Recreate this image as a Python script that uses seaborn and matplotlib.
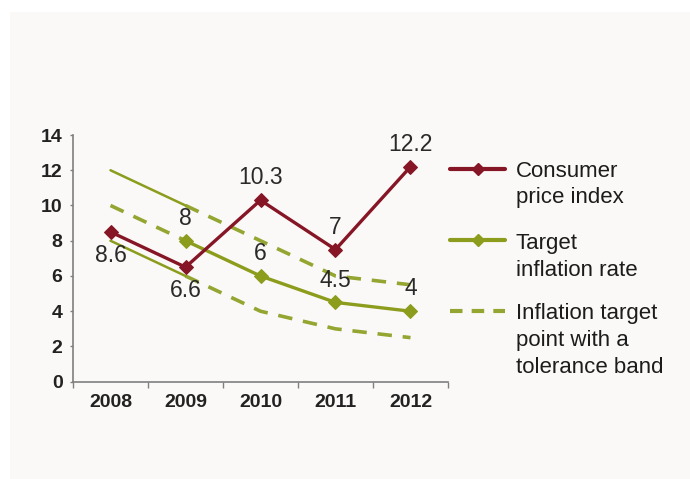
import numpy as np
import pandas as pd
import matplotlib
matplotlib.use("Agg")
import matplotlib.pyplot as plt
from matplotlib.lines import Line2D
from matplotlib.patches import Rectangle
import seaborn as sns

# ---------------- data ----------------
years = ["2008", "2009", "2010", "2011", "2012"]
cpi_values = [8.5, 6.5, 10.3, 7.5, 12.2]
cpi_labels = ["8.6", "6.6", "10.3", "7", "12.2"]
cpi_label_side = ["below", "below", "above", "above", "above"]

target_years = ["2009", "2010", "2011", "2012"]
target_values = [8, 6, 4.5, 4]
target_labels = ["8", "6", "4.5", "4"]

band_upper = [10, 8, 6, 5.5]     # 2009-2012, dashed
band_lower = [6, 4, 3, 2.5]      # 2009-2012, dashed
old_years = ["2008", "2009"]
old_upper = [12, 10]             # solid thin
old_lower = [8, 6]               # solid thin
old_center = [10, 8]             # dashed

legend_labels = [["Consumer", "price index"],
                 ["Target", "inflation rate"],
                 ["Inflation target", "point with a", "tolerance band"]]

# ---------------- style ----------------
sns.set_style("ticks")
plt.rcParams["font.family"] = ["Liberation Sans", "DejaVu Sans"]

RED = "#861626"
GREEN = "#8c9c1c"
DASH_GREEN = "#95a531"
TXT = "#2a2a2a"

W, H = 690, 479
fig = plt.figure(figsize=(W / 100, H / 100), dpi=100)
fig.patch.set_facecolor("white")
fig.add_artist(Rectangle((10 / W, 0), 1 - 10 / W, 1 - 12 / H,
                         transform=fig.transFigure, facecolor="#fbf9f7",
                         edgecolor="none", zorder=0))

ax = fig.add_axes([73 / W, 1 - 381.7 / H, (448 - 73) / W, (381.7 - 135) / H])
ax.set_facecolor("none")

pos = {y: i for i, y in enumerate(years)}

def xs(lst):
    return [pos[v] for v in lst]

dash = (0, (4, 3))

# tolerance bands
sns.lineplot(x=xs(target_years), y=band_upper, ax=ax, color=DASH_GREEN,
             lw=2.6, zorder=2)
ax.lines[-1].set_linestyle(dash)
sns.lineplot(x=xs(target_years), y=band_lower, ax=ax, color=DASH_GREEN,
             lw=2.6, zorder=2)
ax.lines[-1].set_linestyle(dash)
sns.lineplot(x=xs(old_years), y=old_center, ax=ax, color=DASH_GREEN,
             lw=2.6, zorder=2)
ax.lines[-1].set_linestyle(dash)
sns.lineplot(x=xs(old_years), y=old_upper, ax=ax, color=GREEN, lw=1.8, zorder=2)
sns.lineplot(x=xs(old_years), y=old_lower, ax=ax, color=GREEN, lw=1.8, zorder=2)

# target inflation line
sns.lineplot(x=xs(target_years), y=target_values, ax=ax, color=GREEN, lw=2.4,
             marker="D", markersize=7.5, markeredgecolor=GREEN, zorder=3)
# CPI line
sns.lineplot(x=xs(years), y=cpi_values, ax=ax, color=RED, lw=2.4,
             marker="D", markersize=7.5, markeredgecolor=RED, zorder=4)

# data labels
for x, v, lab, side in zip(xs(years), cpi_values, cpi_labels, cpi_label_side):
    off = -17 if side == "below" else 16
    ax.annotate(lab, (x, v), xytext=(0, off), textcoords="offset points",
                ha="center", va="center", fontsize=16.5, color=TXT, zorder=5)
for x, v, lab in zip(xs(target_years), target_values, target_labels):
    ax.annotate(lab, (x, v), xytext=(0, 16), textcoords="offset points",
                ha="center", va="center", fontsize=16.5, color=TXT, zorder=5)

# axes
ax.set_xlim(-0.5, len(years) - 0.5)
ax.set_ylim(0, 14)
ax.set_yticks(np.arange(0, 15, 2))
ax.set_xticks(range(len(years)))
ax.set_xticklabels(years)
ax.set_xticks(np.arange(-0.5, len(years), 1), minor=True)
ax.tick_params(axis="x", which="major", length=0, pad=8.5)
ax.tick_params(axis="x", which="minor", length=4, width=1, color="#7f7f7f")
ax.tick_params(axis="y", which="major", length=2.5, width=1, color="#7f7f7f", pad=5)
for lab in ax.get_xticklabels() + ax.get_yticklabels():
    lab.set_fontweight("bold")
    lab.set_fontsize(14)
    lab.set_color("#222222")
sns.despine(ax=ax)
for s in ["left", "bottom"]:
    ax.spines[s].set_color("#7f7f7f")
    ax.spines[s].set_linewidth(1.2)
ax.set_xlabel("")
ax.set_ylabel("")
ax.grid(False)

# custom legend
def fy(py):
    return 1 - py / H

hx = [450 / W, 477.5 / W, 505 / W]
fig.add_artist(Line2D(hx, [fy(169)] * 3, transform=fig.transFigure, color=RED,
                      lw=3, marker="D", markersize=6.5, markevery=[1]))
fig.add_artist(Line2D(hx, [fy(240)] * 3, transform=fig.transFigure, color=GREEN,
                      lw=3, marker="D", markersize=6.5, markevery=[1]))
fig.add_artist(Line2D([450 / W, 505 / W], [fy(311)] * 2, transform=fig.transFigure,
                      color=DASH_GREEN, lw=3, linestyle=(0, (3, 2.2))))

baselines = [[177, 203], [249, 276], [319, 346, 373]]
for lines, bls in zip(legend_labels, baselines):
    for t, b in zip(lines, bls):
        fig.text(516 / W, fy(b), t, fontsize=16, color="#1c1c1c",
                 ha="left", va="baseline")

fig.savefig("out.png", dpi=100, facecolor=fig.get_facecolor())
